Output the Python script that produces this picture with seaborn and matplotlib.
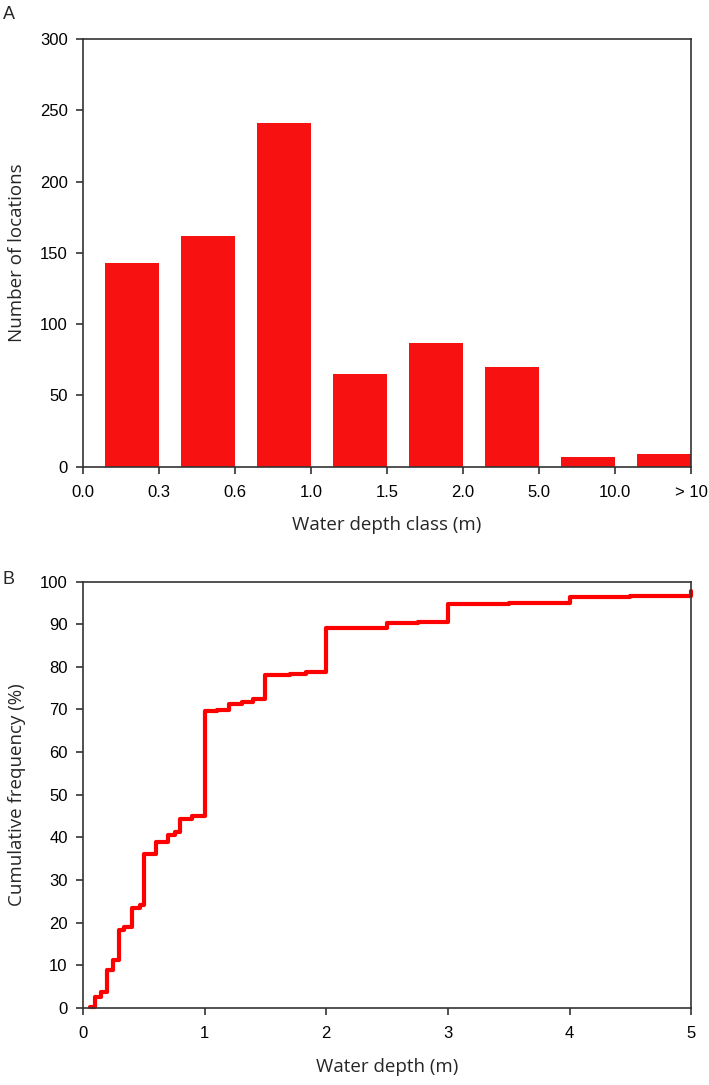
import numpy as np
import matplotlib
matplotlib.use("Agg")
import matplotlib.pyplot as plt
import seaborn as sns

# Panel A: locations per water depth class
depth_classes = ["0.0-0.3", "0.3-0.6", "0.6-1.0", "1.0-1.5",
                 "1.5-2.0", "2.0-5.0", "5.0-10.0", "> 10"]
class_edges = ["0.0", "0.3", "0.6", "1.0", "1.5", "2.0", "5.0", "10.0", "> 10"]
location_counts = [143, 162, 241, 65, 87, 70, 7, 9]

# Panel B: cumulative frequency of water depth (step curve)
depth_m = [0.06, 0.10, 0.15, 0.20, 0.25, 0.30, 0.34, 0.40, 0.47, 0.50,
           0.60, 0.70, 0.76, 0.80, 0.90, 1.00, 1.10, 1.20, 1.31, 1.40,
           1.50, 1.70, 1.83, 2.00, 2.25, 2.50, 2.75, 3.00, 3.50, 4.00,
           4.50, 5.00]
cum_freq_pct = [0.3, 2.5, 3.8, 9.0, 11.3, 18.3, 18.9, 23.4, 24.2, 36.1,
                38.9, 40.6, 41.2, 44.4, 45.1, 69.7, 69.9, 71.2, 71.8, 72.4,
                78.0, 78.3, 78.7, 89.0, 89.2, 90.3, 90.5, 94.8, 95.0, 96.3,
                96.5, 97.8]

BAR_RED = "#f81111"
LINE_RED = "#ff0000"
TICK_FONT = ["Liberation Sans", "DejaVu Sans"]
LABEL_FONT = ["Open Sans", "DejaVu Sans"]

sns.set_theme(style="ticks")
plt.rcParams["font.family"] = TICK_FONT
plt.rcParams["axes.edgecolor"] = "#333333"
plt.rcParams["axes.linewidth"] = 1.2
plt.rcParams["xtick.color"] = "#333333"
plt.rcParams["ytick.color"] = "#333333"
plt.rcParams["xtick.labelcolor"] = "black"
plt.rcParams["ytick.labelcolor"] = "black"

fig = plt.figure(figsize=(7.09, 10.85), dpi=100)
ax1 = fig.add_axes([0.117, 0.570, 0.858, 0.394])
ax2 = fig.add_axes([0.117, 0.071, 0.858, 0.393])

# --- A ---
sns.barplot(x=depth_classes, y=location_counts, color=BAR_RED,
            saturation=1, width=0.71, linewidth=0, ax=ax1)
ax1.set_xticks(np.arange(len(class_edges)) - 0.645)
ax1.set_xticklabels(class_edges)
ax1.set_xlim(-0.645, len(depth_classes) - 0.645)
ax1.set_ylim(0, 300)
ax1.set_yticks(np.arange(0, 301, 50))
ax1.set_xlabel("Water depth class (m)", family=LABEL_FONT, fontsize=13.5, labelpad=12)
ax1.set_ylabel("Number of locations", family=LABEL_FONT, fontsize=13.5, labelpad=10)

# --- B ---
sns.lineplot(x=depth_m, y=cum_freq_pct, color=LINE_RED, linewidth=3,
             drawstyle="steps-post", clip_on=False, ax=ax2)
ax2.set_xlim(0, 5)
ax2.set_ylim(0, 100)
ax2.set_yticks(np.arange(0, 101, 10))
ax2.set_xlabel("Water depth (m)", family=LABEL_FONT, fontsize=13.5, labelpad=12)
ax2.set_ylabel("Cumulative frequency (%)", family=LABEL_FONT, fontsize=13.5, labelpad=10)

for ax in (ax1, ax2):
    for side in ["top", "right", "left", "bottom"]:
        ax.spines[side].set_visible(True)
    ax.tick_params(direction="out", length=5, width=1.2, labelsize=12)
    ax.tick_params(axis="x", pad=8)
    ax.tick_params(axis="y", pad=6)

fig.text(0.004, 0.987, "A", fontsize=13, va="center", ha="left")
fig.text(0.004, 0.466, "B", fontsize=13, va="center", ha="left")

fig.savefig("out.png", dpi=100)
